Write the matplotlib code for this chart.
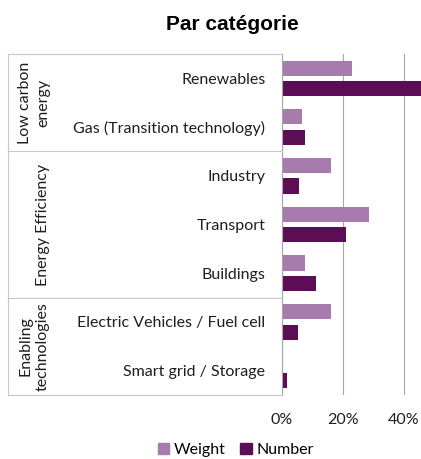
import numpy as np
import matplotlib
matplotlib.use("Agg")
import matplotlib.pyplot as plt
from matplotlib.transforms import blended_transform_factory
from matplotlib.lines import Line2D

# data
categories = ["Renewables", "Gas (Transition technology)", "Industry", "Transport",
              "Buildings", "Electric Vehicles / Fuel cell", "Smart grid / Storage"]
weight = [23.0, 6.6, 16.0, 28.6, 7.6, 16.0, 0.3]
number = [46.0, 7.6, 5.6, 21.0, 11.0, 5.2, 1.6]
groups = ["Low carbon\nenergy", "Energy Efficiency", "Enabling\ntechnologies"]
group_sizes = [2, 3, 2]
xticks = [0, 20, 40]

c_weight = "#A77BAD"
c_number = "#5C0D55"
line_col = "#C8C8C8"
txt = "#1E1E1E"
fs = 11.5

plt.rcParams['font.family'] = ['Lato', 'DejaVu Sans']

W, H = 421, 459
fig = plt.figure(figsize=(W / 100, H / 100), dpi=100)
ax = fig.add_axes([282 / W, 1 - 395 / H, (W - 282) / W, (395 - 54) / H])

y = np.arange(len(categories))
ax.barh(y - 0.21, weight, height=0.31, color=c_weight)
ax.barh(y + 0.21, number, height=0.31, color=c_number)

ax.set_xlim(0, 45.6)
ax.set_ylim(len(categories) - 0.5, -0.5)
ax.set_xticks(xticks)
ax.set_xticklabels([f"{t}%" for t in xticks], fontsize=fs, color=txt)
ax.set_yticks(y)
ax.set_yticklabels(categories, fontsize=fs, color=txt)
ax.tick_params(axis="y", length=0, pad=12)
ax.tick_params(axis="x", length=0, pad=13)
for s in ["top", "right", "bottom"]:
    ax.spines[s].set_visible(False)
ax.spines["left"].set_color("#A6A6A6")
ax.spines["left"].set_linewidth(0.8)
ax.set_axisbelow(True)
ax.grid(axis="x", color="#A6A6A6", linewidth=0.8)

# category table on the left
tr = blended_transform_factory(fig.transFigure, ax.transData)
x0, x1 = 8 / W, 282 / W
bounds = np.concatenate([[0], np.cumsum(group_sizes)]) - 0.5
for b in bounds:
    fig.add_artist(Line2D([x0, x1], [b, b], transform=tr, color=line_col, lw=0.8))
for i, g in enumerate(groups):
    lo, hi = bounds[i], bounds[i + 1]
    fig.add_artist(Line2D([x0, x0], [lo, hi], transform=tr, color=line_col, lw=0.8))
    xc = 34 / W if "\n" in g else 43 / W
    ax.text(xc, (lo + hi) / 2, g, transform=tr, rotation=90, ha="center", va="center",
            fontsize=fs, color=txt, linespacing=1.35, multialignment="center")

fig.text(232 / W, 1 - 24 / H, "Par catégorie", ha="center", va="center",
         fontsize=15, fontweight="bold", family="Liberation Sans")

handles = [plt.Rectangle((0, 0), 1, 1, color=c_weight),
           plt.Rectangle((0, 0), 1, 1, color=c_number)]
fig.legend(handles, ["Weight", "Number"], loc="center", bbox_to_anchor=(236 / W, 1 - 450 / H),
           ncol=2, frameon=False, fontsize=fs, handlelength=0.7, handleheight=0.7,
           handletextpad=0.3, columnspacing=0.9)

fig.savefig("out.png", dpi=100)
